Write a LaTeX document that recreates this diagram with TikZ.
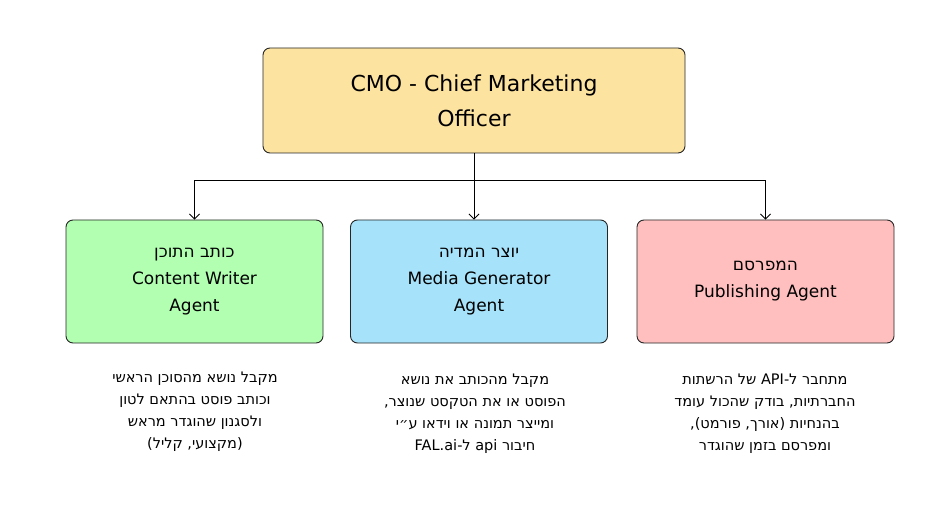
\documentclass[tikz,border=0pt]{standalone}
\usepackage{fontspec}
\setmainfont{DejaVu Sans}
\TeXXeTstate=1
\usetikzlibrary{positioning,arrows.meta}
\newcommand{\heb}[1]{\beginR #1\endR}
\newcommand{\lat}[1]{\beginL #1\endL}
\tikzset{
  agent/.style={draw=black!85, line width=0.9pt, rounded corners=7pt, minimum width=257pt, minimum height=123pt, align=center, font=\fontsize{17}{27}\selectfont},
  note/.style={align=center, font=\fontsize{14.5}{22}\selectfont},
  link/.style={-{Straight Barb[length=5pt]}, line width=0.8pt}
}
\begin{document}
\begin{tikzpicture}[x=1pt,y=-1pt]
\useasboundingbox (0,0) rectangle (952,510);
\node[agent, fill=yellow!45!orange!35, minimum width=422pt, minimum height=105pt, font=\fontsize{22}{35}\selectfont] (cmo) at (474,100.5) {CMO - Chief Marketing\\Officer};
\node[agent, fill=green!30] (writer) at (194.5,281.5) {\heb{כותב התוכן}\\Content Writer\\Agent};
\node[agent, fill=cyan!35] (media) at (479,281.5) {\heb{יוצר המדיה}\\Media Generator\\Agent};
\node[agent, fill=red!25] (pub) at (765.5,281.5) {\heb{המפרסם}\\Publishing Agent};
\coordinate (hub) at (474,180);
\draw[line width=0.8pt] (cmo.south) -- (hub);
\draw[link] (hub) -| (writer.north);
\draw[link] (hub) -- (hub |- media.north);
\draw[link] (hub) -| (pub.north);
\node[note] (wnote) at (195,412) {\heb{מקבל נושא מהסוכן הראשי}\\\heb{וכותב פוסט בהתאם לטון}\\\heb{ולסגנון שהוגדר מראש}\\\heb{(מקצועי, קליל)}};
\node[note] (mnote) at (475,414) {\heb{מקבל מהכותב את נושא}\\\heb{הפוסט או את הטקסט שנוצר,}\\\heb{ומייצר תמונה או וידאו ע״י}\\\heb{חיבור \lat{api} ל-\lat{FAL.ai}}};
\node[note] (pnote) at (765,414) {\heb{מתחבר ל-\lat{API} של הרשתות}\\\heb{החברתיות, בודק שהכול עומד}\\\heb{בהנחיות (אורך, פורמט),}\\\heb{ומפרסם בזמן שהוגדר}};
\end{tikzpicture}
\end{document}
